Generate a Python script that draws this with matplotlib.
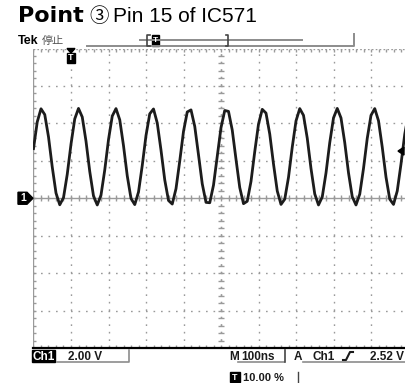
import numpy as np
import matplotlib
matplotlib.use("Agg")
import matplotlib.pyplot as plt
from matplotlib.patches import Rectangle, Polygon
from matplotlib.lines import Line2D

time_ns = list(range(0, 1010, 10))
ch1_volts = [
    2.65, 4.08, 4.78, 4.47, 3.28, 1.67, 0.28, -0.35, 0.03, 1.28,
    2.89, 4.24, 4.80, 4.34, 3.05, 1.43, 0.12, -0.36, 0.17, 1.51,
    3.13, 4.39, 4.79, 4.19, 2.81, 1.20, -0.01, -0.34, 0.33, 1.75,
    3.35, 4.51, 4.77, 4.02, 2.57, 0.98, -0.12, -0.31, 0.51, 1.99,
    3.57, 4.61, 4.72, 3.84, 2.32, 0.77, -0.22, -0.24, 0.70, 2.24,
    3.77, 4.69, 4.64, 3.64, 2.08, 0.57, -0.29, -0.16, 0.90, 2.49,
    3.96, 4.75, 4.55, 3.43, 1.83, 0.39, -0.33, -0.05, 1.12, 2.73,
    4.13, 4.79, 4.43, 3.21, 1.59, 0.23, -0.36, 0.07, 1.35, 2.97,
    4.29, 4.80, 4.29, 2.97, 1.36, 0.08, -0.36, 0.22, 1.59, 3.20,
    4.43, 4.79, 4.14, 2.73, 1.13, -0.05, -0.33, 0.39, 1.83, 3.42,
    4.55,
]
volts_per_div = 2.0
ns_per_div = 100
trigger_level = 2.52
trigger_pos_ns = 100
title_bold = "Point"
title_circ = "③"
title_rest = "Pin 15 of IC571"
ch_label = "Ch1"
scale_label = "2.00 V"
time_label = "100ns"
trig_src = "Ch1"
trig_label = "2.52 V"
pos_label = "10.00 %"

W, H = 406, 383
fig = plt.figure(figsize=(W / 100, H / 100), dpi=100)
fig.patch.set_facecolor("white")

def fx(px):
    return px / W

def fy(py):
    return 1 - py / H

left_px, right_px, top_px, bot_px = 33.5, 408.5, 48.5, 348.0
ax = fig.add_axes([fx(left_px), fy(bot_px), fx(right_px - left_px), (bot_px - top_px) / H])
ax.set_xlim(0, 10 * ns_per_div)
ax.set_ylim(-4 * volts_per_div, 4 * volts_per_div)
ax.set_facecolor("white")

grid_c = "#9a9a9a"
xt = np.arange(0, 10 * ns_per_div + 1, ns_per_div)
yt = np.arange(-4 * volts_per_div, 4 * volts_per_div + 0.01, volts_per_div)
ax.vlines(xt[1:], -8, 8, colors=grid_c, linestyles=(0, (1.2, 4.2)), lw=1.0, zorder=1)
ax.hlines(yt[1:-1], 0, 1000, colors=grid_c, linestyles=(0, (1.2, 4.2)), lw=1.0, zorder=1)
ax.hlines([8], 0, 1000, colors=grid_c, linestyles=(0, (1.2, 1.6)), lw=1.0, zorder=1)

# center cross minor ticks
mx = np.arange(0, 1001, ns_per_div / 5)
my = np.arange(-8, 8.01, volts_per_div / 5)
tick_y = 3 / 37.4 * volts_per_div
tick_x = 3 / 37.5 * ns_per_div
ax.vlines(mx, -tick_y, tick_y, colors=grid_c, lw=1.0, zorder=1)
ax.hlines(my, 500 - tick_x, 500 + tick_x, colors=grid_c, lw=1.0, zorder=1)
ax.vlines([500], -8, 8, colors=grid_c, linestyles=(0, (1.2, 4.2)), lw=1.0, zorder=1)
ax.hlines([0], 0, 1000, colors=grid_c, lw=1.0, zorder=1)
# border minor ticks
ax.vlines(mx, 8 - tick_y, 8, colors=grid_c, lw=1.0, zorder=1)
ax.vlines(mx, -8, -8 + tick_y, colors=grid_c, lw=1.0, zorder=1)
ax.hlines(my, 0, tick_x, colors=grid_c, lw=1.0, zorder=1)
ax.vlines([0], -8, 8, colors=grid_c, lw=1.0, zorder=1)

for s in ["top", "left", "right"]:
    ax.spines[s].set_visible(False)
ax.spines["bottom"].set_linewidth(1.6)
ax.spines["bottom"].set_color("black")
ax.set_xticks([])
ax.set_yticks([])

ax.plot(time_ns, ch1_volts, color="#1c1c1c", lw=2.0, zorder=3, solid_joinstyle="round")

# ---- title ----
fam = ["Liberation Sans", "Noto Sans CJK JP", "DejaVu Sans"]
fig.text(fx(18), fy(22), title_bold, fontsize=16, fontweight="bold", family=["DejaVu Sans"], va="baseline")
fig.text(fx(89), fy(22), title_circ, fontsize=14, family=["Noto Sans CJK JP"], va="baseline")
fig.text(fx(113), fy(22), title_rest, fontsize=15, family=fam, va="baseline")

fig.text(fx(18), fy(44), "Tek", fontsize=9, fontweight="bold", family=fam, va="baseline")
fig.text(fx(42), fy(44), "停止", fontsize=8, family=["Noto Sans CJK JP"], color="#555555", va="baseline")

# top record bar
bar_c = "#8c8c8c"
def fline(xs, ys, c=bar_c, lw=1.4):
    fig.add_artist(Line2D([fx(v) for v in xs], [fy(v) for v in ys], color=c, lw=lw))

fline([87, 354, 354], [45.5, 45.5, 34])
fline([140, 302], [39.5, 39.5])
fline([150, 147.5, 147.5, 150], [35, 35, 46, 46], c="#444444", lw=1.2)
fline([226, 228.5, 228.5, 226], [35, 35, 46, 46], c="#444444", lw=1.2)
fig.add_artist(Rectangle((fx(152), fy(46)), fx(7), 11 / H, color="black"))
fig.text(fx(155.5), fy(41), "T", fontsize=6, color="white", fontweight="bold", ha="center", va="center", family=fam)

# trigger position marker
tp = left_px + trigger_pos_ns / ns_per_div * 37.5
fig.add_artist(Polygon([(fx(tp - 4), fy(48.5)), (fx(tp + 4), fy(48.5)), (fx(tp), fy(53))], closed=True, color="black"))
fig.add_artist(Rectangle((fx(tp - 4), fy(63)), fx(8), 10 / H, color="black"))
fig.text(fx(tp), fy(58), "T", fontsize=6.5, color="white", fontweight="bold", ha="center", va="center", family=fam)

# ground marker (Ch1 at 0 V)
gy = fy(bot_px) + (0 + 8) / 16 * (bot_px - top_px) / H
gpy = (1 - gy) * H
fig.add_artist(Polygon([(fx(18), fy(gpy - 6)), (fx(27), fy(gpy - 6)), (fx(33), fy(gpy)),
                        (fx(27), fy(gpy + 6)), (fx(18), fy(gpy + 6))], closed=True, color="black"))
fig.text(fx(23), fy(gpy), "1", fontsize=7.5, color="white", fontweight="bold", ha="center", va="center", family=fam)

# trigger level marker (right)
ty = fy(bot_px) + (trigger_level + 8) / 16 * (bot_px - top_px) / H
tpy = (1 - ty) * H
fig.add_artist(Polygon([(fx(398), fy(tpy)), (fx(404), fy(tpy - 4)), (fx(404), fy(tpy + 4))], closed=True, color="black"))

# ---- bottom status line ----
fig.add_artist(Rectangle((fx(32), fy(362)), fx(23), 12 / H, color="black"))
fig.text(fx(43.5), fy(360), ch_label, fontsize=8.5, fontweight="bold", color="white", ha="center", va="baseline", family=fam)
fig.text(fx(68), fy(360), scale_label, fontsize=8.5, fontweight="bold", color="#1a1a1a", va="baseline", family=fam)
fline([57, 129, 129], [362, 362, 350], lw=1.2)

fig.text(fx(229), fy(360), "M", fontsize=8.5, fontweight="bold", color="#1a1a1a", va="baseline", family=fam)
fig.text(fx(241), fy(360), time_label, fontsize=8.5, fontweight="bold", color="#1a1a1a", va="baseline", family=fam)
fline([238, 284], [362, 362], lw=1.2)
fline([285.5, 285.5], [350, 362], c="#444444", lw=1.2)
fig.text(fx(294), fy(360), "A", fontsize=8.5, fontweight="bold", color="#1a1a1a", va="baseline", family=fam)
fig.text(fx(313), fy(360), trig_src, fontsize=8.5, fontweight="bold", color="#1a1a1a", va="baseline", family=fam)
fline([303, 406], [362, 362], lw=1.2)
fline([343, 346, 350, 353], [360, 360, 352, 352], c="#1a1a1a", lw=1.5)
fig.text(fx(370), fy(360), trig_label, fontsize=8.5, fontweight="bold", color="#1a1a1a", va="baseline", family=fam)

fig.add_artist(Rectangle((fx(230), fy(382)), fx(10), 10 / H, color="black"))
fig.text(fx(235), fy(377), "T", fontsize=6.5, color="white", fontweight="bold", ha="center", va="center", family=fam)
fig.text(fx(243), fy(381), pos_label, fontsize=8, fontweight="bold", color="#1a1a1a", va="baseline", family=fam)
fline([298, 298], [372, 383], c="#444444", lw=1.0)

fig.savefig("out.png", dpi=100, facecolor="white")
